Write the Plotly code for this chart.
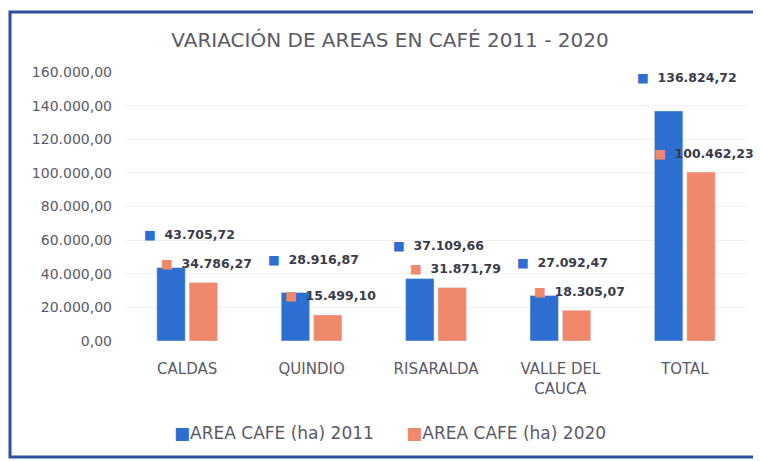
import plotly.graph_objects as go

categories = ["CALDAS", "QUINDIO", "RISARALDA", "VALLE DEL<br>CAUCA", "TOTAL"]
area_2011 = [43705.72, 28916.87, 37109.66, 27092.47, 136824.72]
area_2020 = [34786.27, 15499.10, 31871.79, 18305.07, 100462.23]
series_names = ["AREA CAFE (ha) 2011", "AREA CAFE (ha) 2020"]
y_ticks = [0, 20000, 40000, 60000, 80000, 100000, 120000, 140000, 160000]

BLUE = "#2C6FD1"
ORANGE = "#F0896B"
TEXT = "#5a5a66"
LABEL = "#3b3b4a"
FONT = "DejaVu Sans"

W, H = 753, 453
L, R, T, B = 117, 14, 64, 120
PW, PH = W - L - R, H - T - B


def es_fmt(v):
    s = f"{v:,.2f}"
    return s.replace(",", "X").replace(".", ",").replace("X", ".")


fig = go.Figure()
fig.add_trace(go.Bar(x=categories, y=area_2011, name=series_names[0],
                     marker_color=BLUE, showlegend=False))
fig.add_trace(go.Bar(x=categories, y=area_2020, name=series_names[1],
                     marker_color=ORANGE, showlegend=False))

annotations = []
for cat, v in zip(categories, area_2011):
    annotations.append(dict(
        x=cat, y=v, xref="x", yref="y", showarrow=False,
        text=f"<span style='color:{BLUE}'>■</span>&nbsp;&nbsp;{es_fmt(v)}",
        font=dict(family=FONT, size=12.5, color=LABEL, weight="bold"),
        xanchor="center", yanchor="middle", xshift=2, yshift=33))
for cat, v in zip(categories, area_2020):
    annotations.append(dict(
        x=cat, y=v, xref="x", yref="y", showarrow=False,
        text=f"<span style='color:{ORANGE}'>■</span>&nbsp;&nbsp;{es_fmt(v)}",
        font=dict(family=FONT, size=12.5, color=LABEL, weight="bold"),
        xanchor="center", yanchor="middle", xshift=19, yshift=19))

# legend drawn as text with coloured squares
legend_text = (f"<span style='color:{BLUE}'>■</span>{series_names[0]}"
               f"&nbsp;&nbsp;&nbsp;&nbsp;&nbsp;&nbsp;"
               f"<span style='color:{ORANGE}'>■</span>{series_names[1]}")
annotations.append(dict(
    x=(382 - L) / PW, y=(H - B - 425) / PH, xref="paper", yref="paper",
    text=legend_text, showarrow=False, xanchor="center", yanchor="middle",
    font=dict(family=FONT, size=17, color=TEXT)))

fig.update_layout(
    width=W, height=H,
    margin=dict(l=L, r=R, t=T, b=B, autoexpand=False),
    paper_bgcolor="white", plot_bgcolor="white",
    separators=",.",
    barmode="group", bargap=0.48, bargroupgap=0.12,
    title=dict(text="VARIACIÓN DE AREAS EN CAFÉ 2011 - 2020",
               x=382 / W, xref="container", xanchor="center",
               y=1 - 32 / H, yref="container", yanchor="middle",
               font=dict(family=FONT, size=20, color=TEXT)),
    font=dict(family=FONT, color=TEXT),
    showlegend=False,
    annotations=annotations,
    shapes=[
        dict(type="rect", xref="paper", yref="paper",
             x0=(2 - L) / PW, x1=(747 - L) / PW,
             y0=(H - B - 449) / PH, y1=(H - B - 4) / PH,
             line=dict(color="#2C4FA0", width=3), fillcolor="rgba(0,0,0,0)",
             layer="below"),
        dict(type="line", xref="paper", yref="paper",
             x0=(751 - L) / PW, x1=(751 - L) / PW,
             y0=(H - B - 449) / PH, y1=(H - B - 4) / PH,
             line=dict(color="#6f86c0", width=1.5), layer="below"),
    ],
)
fig.update_xaxes(range=[-0.5, len(categories) - 0.5], autorange=False,
                 showgrid=False, showline=False, ticks="", automargin=False,
                 tickfont=dict(family=FONT, size=15, color=TEXT),
                 ticklabelstandoff=17)
fig.update_yaxes(range=[0, 160000], tickvals=y_ticks, tickformat=",.2f",
                 showgrid=True, gridcolor="#f0f0f0", zeroline=False,
                 showline=False, ticks="", ticklabelstandoff=12, automargin=False,
                 tickfont=dict(family=FONT, size=14, color=TEXT))

fig.write_html("out.html")
